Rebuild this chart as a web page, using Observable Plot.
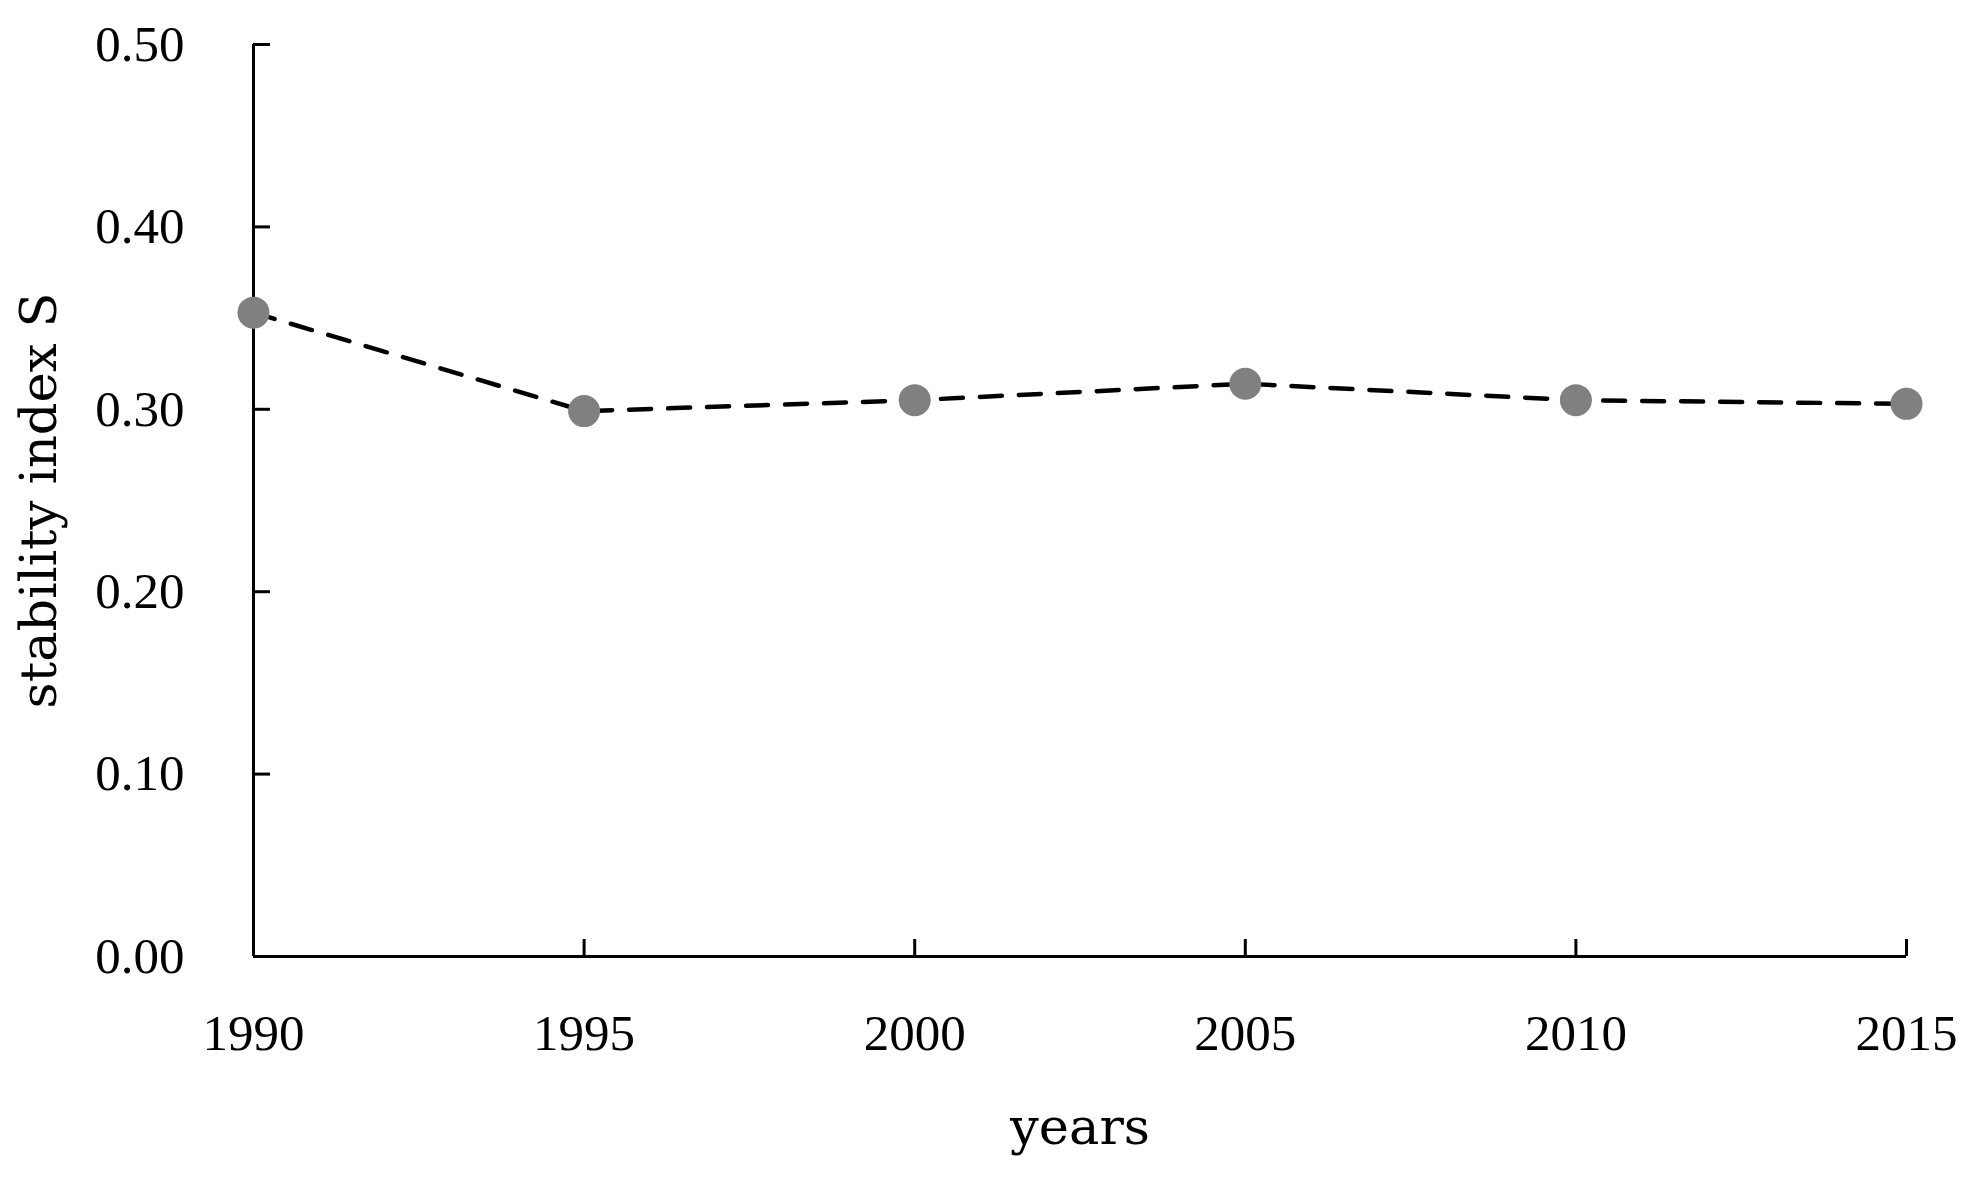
<!DOCTYPE html>
<html>
<head>
<meta charset="utf-8">
<script src="https://cdn.jsdelivr.net/npm/d3@7"></script>
<script src="https://cdn.jsdelivr.net/npm/@observablehq/plot@0.6"></script>
<style>
  html, body { margin: 0; padding: 0; background: #fff; }
</style>
</head>
<body>
<div id="chart"></div>
<script>
const years = [1990, 1995, 2000, 2005, 2010, 2015];
const stability = [0.353, 0.299, 0.305, 0.314, 0.305, 0.303];
const yTicks = [0, 0.1, 0.2, 0.3, 0.4, 0.5];
const xTicks = [1990, 1995, 2000, 2005, 2010, 2015];
const xTitle = "years";
const yTitle = "stability index S";

const data = years.map((y, i) => ({year: y, s: stability[i]}));

const tickFont = "Liberation Serif";
const titleFont = "DejaVu Serif";

const chart = Plot.plot({
  width: 1973,
  height: 1181,
  marginLeft: 253,
  marginRight: 67,
  marginTop: 44,
  marginBottom: 225,
  style: {background: "#fff", color: "#000"},
  x: {domain: [1990, 2015]},
  y: {domain: [0, 0.5]},
  marks: [
    Plot.ruleX([1990], {y1: 0, y2: 0.5, stroke: "#000", strokeWidth: 3}),
    Plot.ruleY([0], {x1: 1990, x2: 2015, stroke: "#000", strokeWidth: 3}),
    Plot.axisY(yTicks, {
      anchor: "left", tickSize: -17, tickPadding: 86, strokeWidth: 3,
      tickFormat: d => d.toFixed(2), fontSize: 51, fontFamily: tickFont,
      fill: "#000", label: null
    }),
    Plot.axisX(xTicks, {
      anchor: "bottom", tickSize: -17, tickPadding: 74, strokeWidth: 3,
      tickFormat: d => String(d), fontSize: 51, fontFamily: tickFont,
      fill: "#000", label: null
    }),
    Plot.line(data, {x: "year", y: "s", stroke: "#000", strokeWidth: 4.5, strokeDasharray: "22,17"}),
    Plot.dot(data, {x: "year", y: "s", r: 16, fill: "#808080", stroke: "none"}),
    Plot.text([xTitle], {text: d => d, frameAnchor: "bottom", textAnchor: "middle", lineAnchor: "middle", dy: 171, fontSize: 51, fontFamily: titleFont, fill: "#000"}),
    Plot.text([yTitle], {text: d => d, frameAnchor: "left", textAnchor: "middle", lineAnchor: "middle", rotate: -90, dx: -214, fontSize: 51, fontFamily: titleFont, fill: "#000"})
  ]
});
document.getElementById("chart").appendChild(chart);
</script>
</body>
</html>
